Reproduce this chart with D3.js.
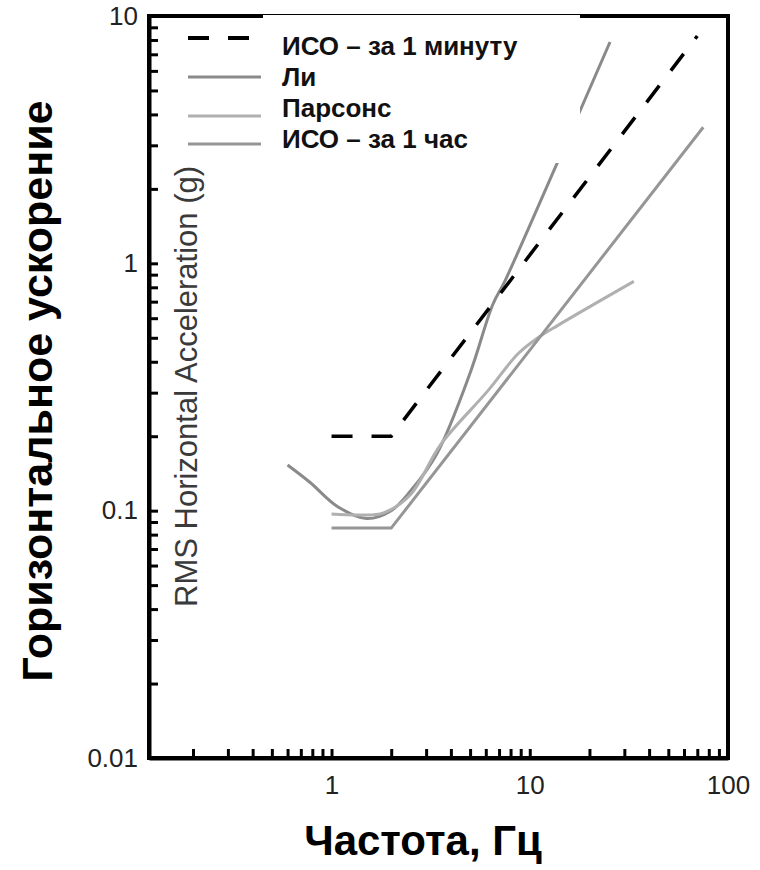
<!DOCTYPE html>
<html>
<head>
<meta charset="utf-8">
<script src="https://cdn.jsdelivr.net/npm/d3@7"></script>
<style>
  body { margin: 0; background: #fff; }
  svg { display: block; font-family: "Liberation Sans", Arial, sans-serif; }
  .axis path, .axis line { stroke: #000; }
  .axis text { font-size: 26px; fill: #222; }
</style>
</head>
<body>
<svg id="chart" width="760" height="870"></svg>
<script>
// values: [frequency Hz, rms acceleration g]
var isoMinute = [[1, 0.2], [2, 0.2], [70, 8.3]];
var lee = [[0.6, 0.153], [0.78, 0.13], [1.07, 0.104], [1.5, 0.093], [2.0, 0.1], [2.5, 0.12],
           [3.4, 0.17], [5.0, 0.36], [6.5, 0.68], [7.5, 0.85], [13.8, 2.56], [25.4, 7.85]];
var parsons = [[1.0, 0.097], [1.4, 0.096], [1.83, 0.098], [2.5, 0.116], [3.55, 0.185], [6.14, 0.305],
               [8.7, 0.43], [11, 0.5], [13.8, 0.56], [33.5, 0.845]];
var isoHour = [[1, 0.085], [2, 0.085], [75, 3.55]];

var seriesNames = ["ИСО – за 1 минуту", "Ли", "Парсонс", "ИСО – за 1 час"];
var seriesColors = ["#000", "#8a8a8a", "#b0b0b0", "#969696"];
var seriesDash = ["21,19", null, null, null];

var xDomain = [0.12, 100];
var yDomain = [0.01, 10];

var innerTitle = "RMS Horizontal Acceleration (g)";
var yTitle = "Горизонтальное ускорение";
var xTitle = "Частота, Гц";

// layout (plot box in page pixels)
var plotL = 149, plotR = 728, plotT = 16, plotB = 758;
var legendLineY = [38, 77, 116, 144];

var svg = d3.select("#chart");

var x = d3.scaleLog().domain(xDomain).range([plotL, plotR]);
var y = d3.scaleLog().domain(yDomain).range([plotB, plotT]);

function isDecade(d){
  var l = Math.log10(d);
  return Math.abs(l - Math.round(l)) < 1e-6;
}

// frame
svg.append("rect")
  .attr("x", plotL).attr("y", plotT)
  .attr("width", plotR - plotL).attr("height", plotB - plotT)
  .attr("fill", "none").attr("stroke", "#000").attr("stroke-width", 4);

var line = d3.line()
  .x(function(d){ return x(d[0]); })
  .y(function(d){ return y(d[1]); });

var allSeries = [isoMinute, lee, parsons, isoHour];

// gray curves first, dashed ISO on top
[1, 2, 3, 0].forEach(function(i){
  svg.append("path")
    .datum(allSeries[i])
    .attr("d", i == 0 || i == 3 ? line.curve(d3.curveLinear) : line.curve(d3.curveCatmullRom.alpha(0.5)))
    .attr("fill", "none")
    .attr("stroke", seriesColors[i])
    .attr("stroke-width", i == 0 ? 3.5 : 3)
    .attr("stroke-dasharray", seriesDash[i]);
});

// axes
svg.append("g")
  .attr("class", "axis x")
  .attr("transform", "translate(0," + plotB + ")")
  .call(d3.axisBottom(x).tickSize(-9).tickSizeOuter(0).tickPadding(18)
    .tickFormat(function(d){ return isDecade(d) ? d3.format("~g")(d) : ""; }))
  .call(function(g){
    g.select(".domain").attr("stroke-width", 4);
    g.selectAll(".tick line").attr("stroke-width", 3);
  });

svg.append("g")
  .attr("class", "axis y")
  .attr("transform", "translate(" + plotL + ",0)")
  .call(d3.axisLeft(y).tickSize(-9).tickSizeOuter(0).tickPadding(11)
    .tickFormat(function(d){ return isDecade(d) ? d3.format("~g")(d) : ""; }))
  .call(function(g){
    g.select(".domain").attr("stroke-width", 4);
    g.selectAll(".tick line").attr("stroke-width", 3);
  });

// legend box hides part of the curves
svg.append("rect")
  .attr("x", 263).attr("y", 15)
  .attr("width", 317).attr("height", 148)
  .attr("fill", "#fff");

var legend = svg.append("g").attr("class", "legend");
seriesNames.forEach(function(name, i){
  legend.append("line")
    .attr("x1", 188).attr("x2", 261)
    .attr("y1", legendLineY[i]).attr("y2", legendLineY[i])
    .attr("stroke", seriesColors[i])
    .attr("stroke-width", i == 0 ? 4 : 3)
    .attr("stroke-dasharray", seriesDash[i]);
  legend.append("text")
    .attr("x", 282)
    .attr("y", 46 + i * 31)
    .attr("dy", "0.35em")
    .attr("font-size", 26)
    .attr("font-weight", "bold")
    .attr("fill", "#111")
    .text(name);
});

// titles
svg.append("text")
  .attr("transform", "translate(197,607) rotate(-90)")
  .attr("font-size", 31)
  .attr("fill", "#3a3a3a")
  .text(innerTitle);

svg.append("text")
  .attr("transform", "translate(52,391) rotate(-90)")
  .attr("text-anchor", "middle")
  .attr("font-size", 43)
  .attr("font-weight", "bold")
  .attr("fill", "#000")
  .text(yTitle);

svg.append("text")
  .attr("x", 423).attr("y", 855)
  .attr("text-anchor", "middle")
  .attr("font-size", 42)
  .attr("font-weight", "bold")
  .attr("fill", "#000")
  .text(xTitle);
</script>
</body>
</html>
